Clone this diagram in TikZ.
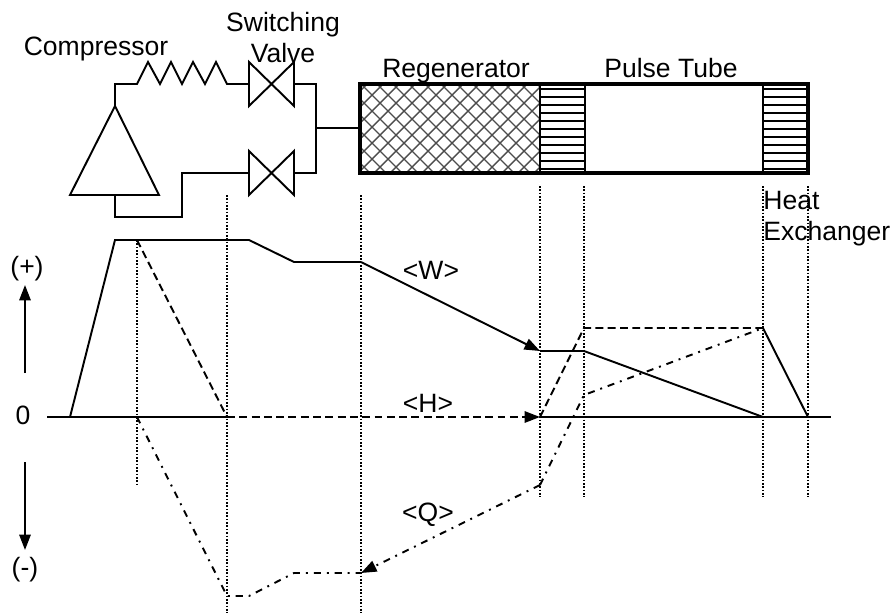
\documentclass[tikz,border=0pt]{standalone}
\usepackage{fontspec}
\setmainfont{Liberation Sans}
\usepackage{xcolor}
\usepackage{tikz}
\usetikzlibrary{arrows.meta}
\tikzset{
  base/.style={draw=black, line width=1.1pt, line cap=butt, line join=miter},
  wall/.style={draw=black, line width=2.2pt},
  thin/.style={draw=black, line width=0.8pt},
  hatch/.style={draw=black!70, line width=0.8pt},
  guide/.style={draw=black, line width=0.85pt, dash pattern=on 0.95pt off 0.95pt},
  dashline/.style={draw=black, line width=1.1pt, dash pattern=on 4.5pt off 2.5pt},
  dotline/.style={draw=black, line width=1.1pt, dash pattern=on 4pt off 3.4pt on 1.1pt off 3.4pt},
  tip/.style={-{Triangle[length=8.8pt,width=6.5pt]}},
  lab/.style={text=black, font=\fontsize{15.1pt}{17pt}\selectfont, inner sep=0pt},
}
\begin{document}
\begin{tikzpicture}[x=0.02cm,y=-0.02cm]
\useasboundingbox (0,0) rectangle (890,613);

% compressor and valves
\draw[base] (115,106) -- (70,195) -- (159,195) -- cycle;
\draw[base] (115,106) -- (115,84) -- (137,84) -- (148,62) -- (160,84) -- (171,62) -- (182,84)
  -- (193,62) -- (205,84) -- (216,62) -- (227,84) -- (249,84);
\draw[base] (249,62) -- (249,106) -- (294,62) -- (294,106) -- cycle;
\draw[base] (249,151) -- (249,195) -- (294,151) -- (294,195) -- cycle;
\draw[base] (294,84) -- (316,84) -- (316,173) -- (294,173);
\draw[base] (249,173) -- (182,173) -- (182,217) -- (115,217) -- (115,195);
\draw[thin] (316,128) -- (360,128);

% regenerator mesh
\begin{scope}
\clip (360,84) rectangle (539,173);
\foreach \x in {-87,-71,...,537}{
  \draw[hatch] (\x,84) -- ++(89,89);
}
\foreach \x in {-90,-74,...,550}{
  \draw[hatch] (\x,173) -- ++(89,-89);
}
\end{scope}

% heat exchangers
\foreach \y in {89,97,...,169}{
  \draw[thin] (540,\y) -- (585,\y);
  \draw[thin] (763,\y) -- (808,\y);
}
\draw[base] (540,84) -- (540,173);
\draw[base] (585,84) -- (585,173);
\draw[base] (763,84) -- (763,173);
\draw[wall] (360,84) rectangle (808,173);

% guides
\foreach \x/\a/\b in {137/240/484,227/195/613,361/195/613,540/186/497,584/186/497,763/186/497,808/186/497}{
  \draw[guide] (\x,\a) -- (\x,\b);
}

% axis
\draw[base] (47,417) -- (227,417);
\draw[base] (540,417) -- (831,417);
\draw[base, tip] (25,373) -- (25,285);
\draw[base, tip] (25,462) -- (25,550);

% W
\draw[base] (70,417) -- (115,240) -- (249,240) -- (294,262) -- (361,262);
\draw[base, tip] (361,262) -- (540,351);
\draw[base] (540,351) -- (584,351) -- (763,417);
\draw[base] (763,328) -- (808,417);

% H
\draw[dashline] (137,240) -- (227,417);
\draw[dashline, tip] (227,417) -- (540,417);
\draw[dashline] (540,417) -- (584,328) -- (763,328);

% Q
\draw[dotline] (137,417) -- (227,596) -- (249,596) -- (294,573) -- (361,573);
\draw[dotline, tip] (540,485) -- (361,573);
\draw[dotline] (540,485) -- (584,395) -- (763,328);

% labels
\node[lab] (compressor) at (96,49) {Compressor};
\node[lab] (switching) at (283,25) {Switching};
\node[lab] (valve) at (283,53) {Valve};
\node[lab] (regenerator) at (456,71) {Regenerator};
\node[lab] (pulse) at (671,68) {Pulse Tube};
\node[lab, anchor=west] (heat) at (763,200) {Heat};
\node[lab, anchor=west] (exchanger) at (763,234) {Exchanger};
\node[lab] (plus) at (27,269) {(+)};
\node[lab] (zero) at (23,415) {0};
\node[lab] (minus) at (25,570) {(-)};
\node[lab] (work) at (431,270) {<W>};
\node[lab] (enthalpy) at (428,403) {<H>};
\node[lab] (heatflow) at (428,515) {<Q>};
\end{tikzpicture}
\end{document}
